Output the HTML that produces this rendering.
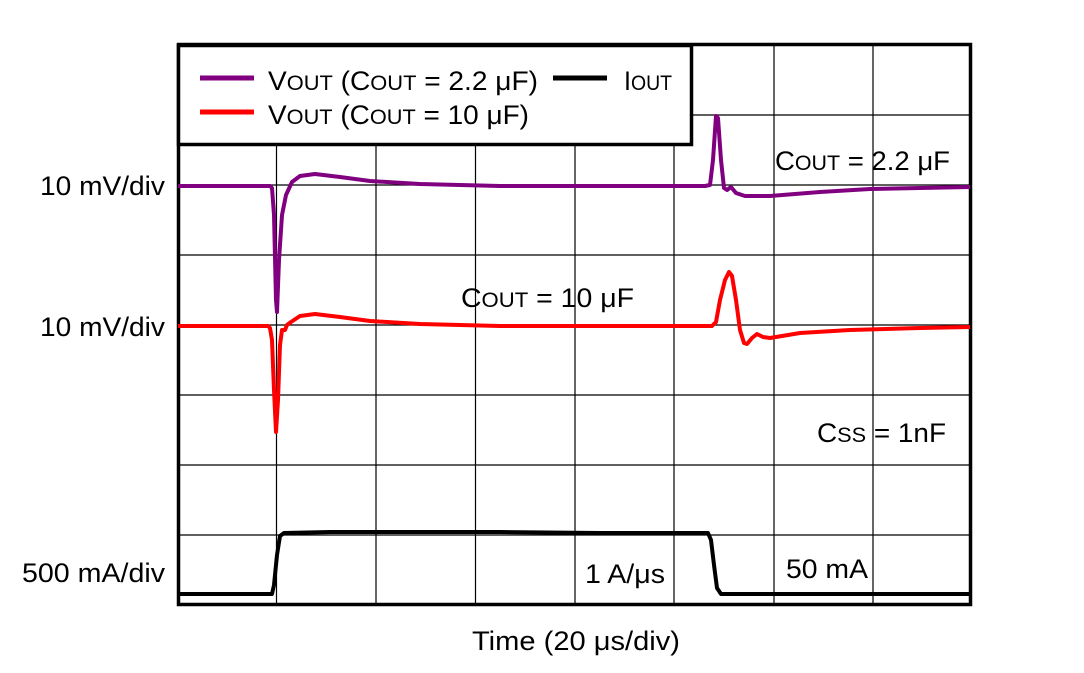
<!DOCTYPE html>
<html><head><style>
body{margin:0;background:#fff;}
svg text{font-family:"Liberation Sans",Arial,sans-serif;fill:#000;}
</style></head><body>
<svg width="1084" height="668" viewBox="0 0 1084 668" xmlns="http://www.w3.org/2000/svg">
<g stroke="#000" stroke-width="1.2">
<line x1="276.5" y1="44" x2="276.5" y2="605"/><line x1="376" y1="44" x2="376" y2="605"/>
<line x1="475.5" y1="44" x2="475.5" y2="605"/><line x1="575" y1="44" x2="575" y2="605"/>
<line x1="674" y1="44" x2="674" y2="605"/><line x1="774" y1="44" x2="774" y2="605"/>
<line x1="873" y1="44" x2="873" y2="605"/>
<line x1="177" y1="115" x2="972" y2="115"/><line x1="177" y1="185" x2="972" y2="185"/>
<line x1="177" y1="255" x2="972" y2="255"/><line x1="177" y1="325" x2="972" y2="325"/>
<line x1="177" y1="395" x2="972" y2="395"/><line x1="177" y1="465" x2="972" y2="465"/>
<line x1="177" y1="535" x2="972" y2="535"/>
</g>
<rect x="178.5" y="44.5" width="792" height="560" fill="none" stroke="#000" stroke-width="3.5"/>
<polyline fill="none" stroke="#800080" stroke-width="4" stroke-linejoin="round" points="178,186 270,186 272,188 274,215 276,300 277,312 279,260 282,215 286,195 292,182 300,176 315,174 340,177 370,181 420,184 500,186 600,186 705,186 710,185 713,160 716,116 718,118 721,160 724,188 727,190 731,187 736,193 745,196 770,196 820,192 870,189 920,188 970,187"/>
<polyline fill="none" stroke="#ff0000" stroke-width="4" stroke-linejoin="round" points="178,326 268,326 270,328 272,340 274,390 276,432 278,400 280,345 282,330 285,330 287,325 291,322 300,316 315,314 340,317 370,321 420,324 500,326 600,326 712,326 716,322 720,300 725,280 729,272 732,276 736,300 740,330 744,343 747,344 752,338 757,334 763,337 770,338 800,333 850,330 920,328 970,327"/>
<polyline fill="none" stroke="#000" stroke-width="4" stroke-linejoin="round" points="178,594 272,594 274,585 277,555 280,536 284,533 330,532 500,532 600,533 708,533 711,540 714,565 717,588 721,594 970,594"/>
<rect x="178.5" y="45.5" width="513" height="99" fill="#fff" stroke="#000" stroke-width="3.5"/>
<line x1="200" y1="78" x2="254" y2="78" stroke="#800080" stroke-width="5"/>
<line x1="200" y1="112" x2="254" y2="112" stroke="#ff0000" stroke-width="5"/>
<line x1="553" y1="78" x2="607" y2="78" stroke="#000" stroke-width="5"/>
<g font-size="27">
<text x="268" y="90" textLength="270" lengthAdjust="spacingAndGlyphs">V<tspan font-size="21">OUT</tspan> (C<tspan font-size="21">OUT</tspan> = 2.2 μF)</text>
<text x="268" y="124" textLength="261" lengthAdjust="spacingAndGlyphs">V<tspan font-size="21">OUT</tspan> (C<tspan font-size="21">OUT</tspan> = 10 μF)</text>
<text x="624" y="90" textLength="48" lengthAdjust="spacingAndGlyphs">I<tspan font-size="21">OUT</tspan></text>
<text x="775" y="170" textLength="175" lengthAdjust="spacingAndGlyphs">C<tspan font-size="21">OUT</tspan> = 2.2 μF</text>
<text x="461" y="307" textLength="173" lengthAdjust="spacingAndGlyphs">C<tspan font-size="21">OUT</tspan> = 10 μF</text>
<text x="817" y="442" textLength="129" lengthAdjust="spacingAndGlyphs">C<tspan font-size="21">SS</tspan> = 1nF</text>
<text x="585" y="583" textLength="80" lengthAdjust="spacingAndGlyphs">1 A/μs</text>
<text x="786" y="578" textLength="82" lengthAdjust="spacingAndGlyphs">50 mA</text>
<text x="40" y="195" textLength="125" lengthAdjust="spacingAndGlyphs">10 mV/div</text>
<text x="40" y="336" textLength="125" lengthAdjust="spacingAndGlyphs">10 mV/div</text>
<text x="22" y="582" textLength="143" lengthAdjust="spacingAndGlyphs">500 mA/div</text>
<text x="472" y="650" textLength="208" lengthAdjust="spacingAndGlyphs">Time (20 μs/div)</text>
</g>
</svg>
</body></html>
